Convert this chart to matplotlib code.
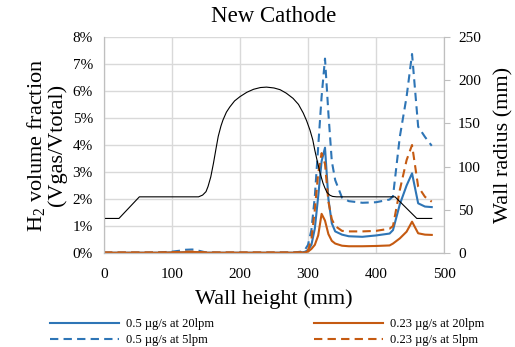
import matplotlib
matplotlib.use('Agg')
import matplotlib.pyplot as plt
from matplotlib.ticker import FuncFormatter

plt.rcParams['font.family'] = ['Liberation Serif', 'DejaVu Serif']
plt.rcParams['mathtext.default'] = 'regular'

# wall height (mm) for the H2 series
x_h = [0, 20, 40, 60, 80, 100, 110, 120, 130, 140, 150, 170, 200, 250, 280, 290, 295,
       300, 305, 310, 315, 320, 325, 330, 335, 340, 350, 360, 380, 400, 420, 425,
       435, 445, 453, 462, 472, 482]

# H2 volume fraction (%)
blue_20 = [0.01, 0.01, 0.01, 0.01, 0.01, 0.02, 0.02, 0.03, 0.03, 0.02, 0.01, 0.01, 0.01, 0.01, 0.01, 0.02, 0.04,
           0.1, 0.3, 0.9, 2.1, 3.4, 3.9, 2.0, 1.1, 0.8, 0.68, 0.62, 0.6, 0.65, 0.72, 0.85,
           1.8, 2.5, 2.95, 1.84, 1.72, 1.70]
blue_5 = [0.01, 0.01, 0.01, 0.01, 0.02, 0.05, 0.08, 0.12, 0.13, 0.08, 0.02, 0.01, 0.01, 0.01, 0.02, 0.05, 0.1,
          0.3, 0.85, 2.08, 3.94, 5.79, 7.2, 5.17, 3.4, 2.7, 2.05, 1.92, 1.86, 1.88, 1.98, 2.1,
          4.3, 5.79, 7.37, 4.68, 4.3, 3.97]
orange_20 = [0.01, 0.01, 0.01, 0.01, 0.01, 0.02, 0.02, 0.03, 0.04, 0.03, 0.01, 0.01, 0.01, 0.01, 0.01, 0.01, 0.02,
             0.05, 0.15, 0.3, 0.65, 1.45, 1.2, 0.7, 0.45, 0.35, 0.27, 0.25, 0.25, 0.26, 0.28, 0.35,
             0.54, 0.79, 1.16, 0.73, 0.68, 0.67]
orange_5 = [0.02, 0.02, 0.02, 0.02, 0.02, 0.03, 0.04, 0.05, 0.05, 0.04, 0.02, 0.02, 0.02, 0.02, 0.02, 0.03, 0.05,
            0.1, 0.5, 1.6, 2.95, 3.7, 3.3, 1.9, 1.25, 1.0, 0.82, 0.8, 0.8, 0.82, 0.9, 1.0,
            2.33, 3.44, 4.0, 2.46, 2.08, 1.9]

# wall radius profile (mm)
x_w = [0, 22, 52, 139, 145, 150, 153, 157, 161, 165, 168, 172, 175, 180, 185, 192, 200, 210, 220,
       230, 239, 250, 259, 268, 278, 286, 293, 298, 303, 307, 310, 314, 318, 322, 325, 328, 332,
       336, 342, 428, 460, 482]
r_w = [40, 40, 65, 65, 67, 71, 77, 88, 104, 122, 135, 147, 154, 163, 169, 176, 181, 186, 189.5,
       191.5, 192, 191, 189, 185, 179, 172, 162, 153, 142, 131, 119, 105, 92, 81, 75, 70, 67,
       65.5, 65, 65, 40, 40]

blue = '#2E75B6'
orange = '#C55A11'

fig = plt.figure(figsize=(5.15, 3.47), dpi=100)
ax = fig.add_axes([104 / 515, 1 - 253 / 347, 340 / 515, 216 / 347])
ax2 = ax.twinx()

dash = (0, (4, 2.5))
ax.plot(x_h, blue_20, color=blue, lw=1.5, label='0.5 µg/s at 20lpm')
ax.plot(x_h, blue_5, color=blue, lw=1.5, ls=dash, label='0.5 µg/s at 5lpm')
ax.plot(x_h, orange_20, color=orange, lw=1.5, label='0.23 µg/s at 20lpm')
ax.plot(x_h, orange_5, color=orange, lw=1.5, ls=dash, label='0.23 µg/s at 5lpm')
ax2.plot(x_w, r_w, color='black', lw=0.8)

ax.set_xlim(0, 500)
ax.set_ylim(0, 8)
ax2.set_ylim(0, 250)
ax.set_xticks(range(0, 501, 100))
ax.set_yticks(range(0, 9))
ax2.set_yticks(range(0, 251, 50))
ax.yaxis.set_major_formatter(FuncFormatter(lambda v, p: f'{v:.0f}%'))

ax.grid(True, color='#D9D9D9', lw=1)
ax.set_axisbelow(True)
for a in (ax, ax2):
    for s in a.spines.values():
        s.set_color('#BFBFBF')
    a.spines['top'].set_visible(False)
ax.tick_params(axis='x', length=0, labelsize=11, pad=11)
ax.tick_params(axis='y', length=0, labelsize=11, pad=8)
ax2.tick_params(axis='y', length=4, color='#BFBFBF', labelsize=11, pad=6)

ax.set_title('New Cathode', fontsize=16.5, pad=11)
ax.set_xlabel('Wall height (mm)', fontsize=16, labelpad=6)
ax.set_ylabel('H$_2$ volume fraction\n(Vgas/Vtotal)', fontsize=16, labelpad=4, linespacing=1.0)
ax2.set_ylabel('Wall radius (mm)', fontsize=16, labelpad=10)

fig.legend(loc='upper left', bbox_to_anchor=(50 / 515, 1 - 318 / 347), ncol=2, frameon=False,
           fontsize=9, handlelength=5.5, handletextpad=0.6, columnspacing=8.0,
           labelspacing=0.35, borderpad=0, borderaxespad=0)

fig.savefig('out.png', dpi=100)
